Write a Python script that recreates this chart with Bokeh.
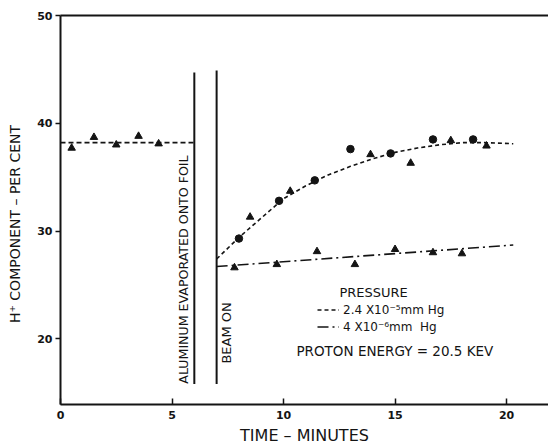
import math
from bokeh.plotting import figure
from bokeh.models import (Range1d, FixedTicker, LinearAxis, Label, Legend, LegendItem)
from bokeh.embed import file_html
from bokeh.resources import INLINE

# ---------------- data ----------------
x_ticks = [0, 5, 10, 15, 20]
y_ticks = [20, 30, 40, 50]

# before aluminium evaporation
pre_x = [0.5, 1.5, 2.5, 3.5, 4.4]
pre_y = [37.7, 38.7, 38.0, 38.8, 38.1]
pre_fit_x = [0.0, 6.0]
pre_fit_y = [38.2, 38.2]

# events (vertical markers)
event_x = [6.0, 7.0]
event_top = [44.7, 44.9]
event_bottom = [15.8, 15.8]

# pressure 2.4e-5 mm Hg (dashed curve)
hi_circ_x = [8.0, 9.8, 11.4, 13.0, 14.8, 16.7, 18.5]
hi_circ_y = [29.3, 32.8, 34.7, 37.6, 37.2, 38.5, 38.5]
hi_tri_x = [8.5, 10.3, 13.9, 15.7, 17.5, 19.1]
hi_tri_y = [31.3, 33.7, 37.1, 36.3, 38.4, 37.9]
hi_fit_x = [7.0, 8.0, 9.0, 10.0, 11.0, 12.0, 13.0, 14.0, 15.0, 16.0, 17.0, 18.0, 19.0, 20.3]
hi_fit_y = [27.4, 29.4, 31.2, 33.0, 34.2, 35.2, 36.0, 36.7, 37.3, 37.7, 38.0, 38.2, 38.2, 38.1]

# pressure 4e-6 mm Hg (dash-dot line)
lo_tri_x = [7.8, 9.7, 11.5, 13.2, 15.0, 16.7, 18.0]
lo_tri_y = [26.6, 26.9, 28.1, 26.9, 28.3, 28.0, 27.9]
lo_fit_x = [7.0, 20.3]
lo_fit_y = [26.7, 28.7]

FONT = "DejaVu Sans"
INK = "#141414"

p = figure(width=548, height=447, output_backend="svg", toolbar_location=None,
           x_range=Range1d(0, 21.88), y_range=Range1d(13.9, 50),
           min_border_left=60, min_border_right=0, min_border_top=15,
           min_border_bottom=42)
p.outline_line_color = None
p.grid.visible = False
p.background_fill_color = "white"
p.border_fill_color = "white"

# x axis
xa = p.xaxis[0]
xa.ticker = FixedTicker(ticks=x_ticks)
xa.axis_line_width = 2
xa.axis_line_color = INK
xa.major_tick_in = 6
xa.major_tick_out = 0
xa.major_tick_line_color = INK
xa.major_tick_line_width = 1.5
xa.minor_tick_line_color = None
xa.major_label_standoff = 6
xa.major_label_text_font = FONT
xa.major_label_text_font_size = "11px"
xa.major_label_text_font_style = "bold"
xa.major_label_text_color = INK
xa.axis_label = "TIME – MINUTES"
xa.axis_label_text_font = FONT
xa.axis_label_text_font_size = "16px"
xa.axis_label_text_font_style = "normal"
xa.axis_label_text_color = INK
xa.axis_label_standoff = 4

# y axis
ya = p.yaxis[0]
ya.ticker = FixedTicker(ticks=y_ticks)
ya.axis_line_width = 2
ya.axis_line_color = INK
ya.major_tick_in = 0
ya.major_tick_out = 5
ya.major_tick_line_color = INK
ya.major_tick_line_width = 1.5
ya.minor_tick_line_color = None
ya.major_label_standoff = 3
ya.major_label_text_font = FONT
ya.major_label_text_font_size = "11px"
ya.major_label_text_font_style = "bold"
ya.major_label_text_color = INK
# trailing em spaces shift the visible title a little below the frame centre
ya.axis_label = "H⁺ COMPONENT – PER CENT\u2003\u2003"
ya.axis_label_text_font = FONT
ya.axis_label_text_font_size = "14px"
ya.axis_label_text_font_style = "normal"
ya.axis_label_text_color = INK
ya.axis_label_standoff = 11

# top frame line
top = LinearAxis(ticker=FixedTicker(ticks=[]), major_label_text_font_size="0px",
                 major_tick_out=0, major_tick_in=0, minor_tick_out=0, minor_tick_in=0,
                 axis_line_width=2, axis_line_color=INK, major_label_standoff=0)
p.add_layout(top, "above")

# event lines
p.segment(x0=event_x, y0=event_bottom, x1=event_x, y1=event_top,
          line_color=INK, line_width=2)

# pre-evaporation data
p.line(pre_fit_x, pre_fit_y, line_color=INK, line_width=1.6, line_dash="5 3")
p.scatter(pre_x, pre_y, marker="triangle", size=7.5, fill_color=INK, line_color=INK)

# high pressure
hi_r = p.line(hi_fit_x, hi_fit_y, line_color=INK, line_width=1.6, line_dash="4 3")
p.scatter(hi_circ_x, hi_circ_y, marker="circle", size=7.5, fill_color=INK, line_color=INK)
p.scatter(hi_tri_x, hi_tri_y, marker="triangle", size=7.5, fill_color=INK, line_color=INK)

# low pressure
lo_r = p.line(lo_fit_x, lo_fit_y, line_color=INK, line_width=1.6, line_dash="11 4 2 4")
p.scatter(lo_tri_x, lo_tri_y, marker="triangle", size=7.5, fill_color=INK, line_color=INK)

# vertical annotations
p.add_layout(Label(x=5.52, y=15.83, text="ALUMINUM EVAPORATED ONTO FOIL",
                   angle=math.pi / 2, text_align="left", text_baseline="middle",
                   text_font=FONT, text_font_size="12.6px", text_color=INK))
p.add_layout(Label(x=7.44, y=17.7, text="BEAM ON",
                   angle=math.pi / 2, text_align="left", text_baseline="middle",
                   text_font=FONT, text_font_size="13px", text_color=INK))

# legend
p.add_layout(Label(x=14.04, y=24.26, text="PRESSURE", text_align="center",
                   text_baseline="middle", text_font=FONT, text_font_size="13px",
                   text_color=INK))
legend = Legend(items=[LegendItem(label="2.4 X10⁻⁵mm Hg", renderers=[hi_r]),
                       LegendItem(label="4 X10⁻⁶mm  Hg", renderers=[lo_r])],
                location=(257, 70), orientation="vertical",
                padding=0, margin=0, spacing=2, glyph_width=22, glyph_height=15,
                label_height=15, label_standoff=4,
                label_text_font=FONT, label_text_font_size="12px",
                label_text_color=INK, border_line_color=None,
                background_fill_alpha=0)
p.add_layout(legend)

p.add_layout(Label(x=10.58, y=18.9, text="PROTON ENERGY = 20.5 KEV", text_align="left",
                   text_baseline="middle", text_font=FONT, text_font_size="13.5px",
                   text_color=INK))

open("out.html", "w").write(file_html(p, INLINE))
